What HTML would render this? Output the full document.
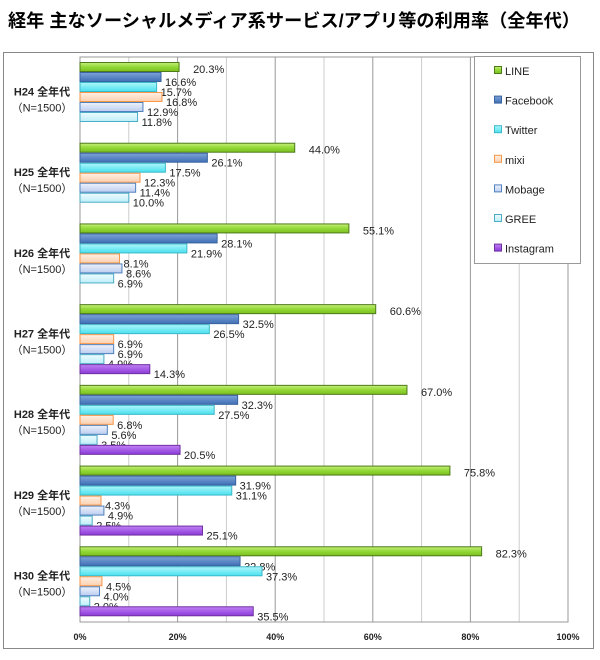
<!DOCTYPE html>
<html><head><meta charset="utf-8">
<style>
body{margin:0;background:#fff;width:600px;height:655px;overflow:hidden;font-family:"Liberation Sans","Noto Sans CJK JP",sans-serif}
</style></head><body>
<svg width="600" height="655" xmlns="http://www.w3.org/2000/svg">
<defs>
<linearGradient id="gLINE" x1="0" y1="0" x2="0" y2="1"><stop offset="0" stop-color="#c6f07a"/><stop offset="0.5" stop-color="#92d836"/><stop offset="1" stop-color="#7cc020"/></linearGradient>
<linearGradient id="gFB" x1="0" y1="0" x2="0" y2="1"><stop offset="0" stop-color="#7ea3d8"/><stop offset="1" stop-color="#3f6fb5"/></linearGradient>
<linearGradient id="gTW" x1="0" y1="0" x2="0" y2="1"><stop offset="0" stop-color="#b0f6fb"/><stop offset="1" stop-color="#48e0ee"/></linearGradient>
<linearGradient id="gMX" x1="0" y1="0" x2="0" y2="1"><stop offset="0" stop-color="#fff0e4"/><stop offset="1" stop-color="#fbd0b0"/></linearGradient>
<linearGradient id="gMB" x1="0" y1="0" x2="0" y2="1"><stop offset="0" stop-color="#eef2fb"/><stop offset="1" stop-color="#bccdf0"/></linearGradient>
<linearGradient id="gGR" x1="0" y1="0" x2="0" y2="1"><stop offset="0" stop-color="#effcff"/><stop offset="1" stop-color="#bdeef8"/></linearGradient>
<linearGradient id="gIG" x1="0" y1="0" x2="0" y2="1"><stop offset="0" stop-color="#c080f4"/><stop offset="1" stop-color="#8a3ad8"/></linearGradient>
</defs>
<text x="8" y="27" font-size="18" font-weight="bold" fill="#000" textLength="572" lengthAdjust="spacingAndGlyphs">経年 主なソーシャルメディア系サービス/アプリ等の利用率（全年代）</text>
<rect x="3.5" y="52.5" width="590" height="596" fill="none" stroke="#888"/>
<g id="plot"></g>
<g id="legend"></g>
</svg>
<script>
const categories=["H24 全年代","H25 全年代","H26 全年代","H27 全年代","H28 全年代","H29 全年代","H30 全年代"];
const seriesNames=["LINE","Facebook","Twitter","mixi","Mobage","GREE","Instagram"];
const LINE=[20.3,44.0,55.1,60.6,67.0,75.8,82.3];
const Facebook=[16.6,26.1,28.1,32.5,32.3,31.9,32.8];
const Twitter=[15.7,17.5,21.9,26.5,27.5,31.1,37.3];
const mixi=[16.8,12.3,8.1,6.9,6.8,4.3,4.5];
const Mobage=[12.9,11.4,8.6,6.9,5.6,4.9,4.0];
const GREE=[11.8,10.0,6.9,4.9,3.5,2.5,2.0];
const Instagram=[null,null,null,14.3,20.5,25.1,35.5];
const xTicks=[0,20,40,60,80,100];
const NS="http://www.w3.org/2000/svg";
const fills=["url(#gLINE)","url(#gFB)","url(#gTW)","url(#gMX)","url(#gMB)","url(#gGR)","url(#gIG)"];
const strokes=["#4e7a1a","#3a64a0","#3cb8c8","#f79646","#4f81bd","#4bacc6","#7030a0"];
const series=[LINE,Facebook,Twitter,mixi,Mobage,GREE,Instagram];
const X0=80,X1=568,Y0=57,Y1=622;
const xs=v=>X0+(X1-X0)*v/100;
const groupH=(Y1-Y0)/categories.length;
const plot=document.getElementById('plot');
function mk(t,a,p){const e=document.createElementNS(NS,t);for(const k in a)e.setAttribute(k,a[k]);(p||plot).appendChild(e);return e;}
for(let v=10;v<=100;v+=10){
  const g=mk('line',{x1:xs(v),x2:xs(v),y1:Y0,y2:Y1,stroke:v%20===0?'#999':'#ccc','stroke-width':1});
  
  
}
const ax=mk('line',{x1:X0,x2:X0,y1:Y0,y2:Y1,stroke:'#888'});


const bx=mk('line',{x1:X0,x2:X1,y1:Y1,y2:Y1,stroke:'#888'});


mk('rect',{x:X0,y:Y0,width:X1-X0,height:Y1-Y0,fill:'none',stroke:'#999'});
xTicks.forEach(v=>{
  const t=mk('text',{x:xs(v),y:640,'font-size':9,'font-weight':'bold','text-anchor':'middle',fill:'#222'});
  t.textContent=v+'%';
  
  
});
const bh=10;
categories.forEach((c,i)=>{
  const gy=Y0+i*groupH;
  const t1=mk('text',{x:42,y:gy+groupH/2-2,'font-size':11,'font-weight':'bold','text-anchor':'middle',fill:'#222'});
  t1.textContent=c;
  
  
  const t2=mk('text',{x:42,y:gy+groupH/2+14,'font-size':11,'text-anchor':'middle',fill:'#222'});
  t2.textContent='（N=1500）';
  
  
  series.forEach((s,j)=>{
    const v=s[i]; if(v==null) return;
    const y=gy+5+j*bh;
    const r=mk('rect',{x:X0,y:y+0.5,width:xs(v)-X0,height:bh-1,fill:fills[j],stroke:strokes[j],'stroke-width':1});
    
    
    const lt=mk('text',{x:xs(v)+(j===0?14:4),y:y+(j===0?11:14),'font-size':11,fill:'#222'});
    lt.textContent=v.toFixed(1)+'%';
    
    
  });
});
const lg=document.getElementById('legend');
const lb=mk('rect',{x:474.5,y:56.5,width:106,height:207,fill:'#fff',stroke:'#999'},lg);


seriesNames.forEach((n,j)=>{
  const y=71+j*29.6;
  const sw=mk('rect',{x:494.5,y:y-4.5,width:7,height:7,fill:fills[j],stroke:strokes[j]},lg);
  
  
  const t=mk('text',{x:505,y:y+4,'font-size':11,fill:'#222'},lg);
  t.textContent=n;
  
  
});
</script>
</body></html>
